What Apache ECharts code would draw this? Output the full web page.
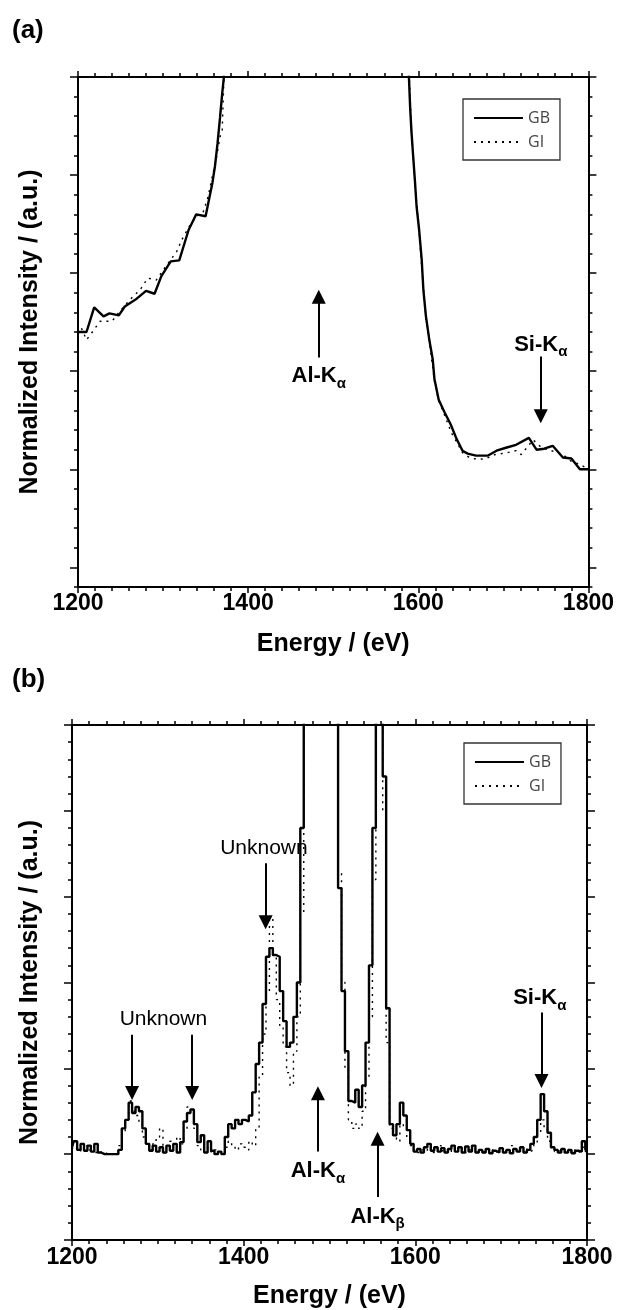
<!DOCTYPE html>
<html>
<head>
<meta charset="utf-8">
<script src="https://cdn.jsdelivr.net/npm/echarts@6.0.0/dist/echarts.min.js"></script>
<style>
  html, body { margin: 0; padding: 0; background: #fff; }
  #chart { width: 617px; height: 1310px; }
</style>
</head>
<body>
<div id="chart"></div>
<script>
// ---- panel (a): GB / GI, Al-K alpha saturated ----
const aEnergyGB = [1200, 1210, 1219, 1230, 1237, 1248, 1255, 1269, 1280, 1290,
  1298, 1309, 1319, 1330, 1339, 1350, 1354, 1358, 1361, 1364,
  1367, 1369.5, 1371.5, 1373, 1587, 1589, 1590.5, 1592, 1594, 1596,
  1598, 1601, 1604, 1606, 1609, 1613, 1617, 1619, 1624, 1631,
  1638, 1645, 1652, 1658, 1668, 1682, 1692, 1703, 1715, 1730,
  1739, 1748, 1758, 1770, 1780, 1790, 1800];
const aGB = [2.40, 2.40, 2.65, 2.56, 2.59, 2.57, 2.66, 2.74, 2.82, 2.79,
  2.97, 3.12, 3.13, 3.44, 3.60, 3.58, 3.75, 3.92, 4.09, 4.32,
  4.59, 4.83, 5.00, 5.60, 5.60, 5.00, 4.68, 4.44, 4.19, 3.95,
  3.68, 3.44, 3.14, 2.83, 2.56, 2.32, 2.12, 1.92, 1.71, 1.58,
  1.46, 1.31, 1.19, 1.16, 1.14, 1.14, 1.19, 1.22, 1.25, 1.32,
  1.20, 1.21, 1.24, 1.12, 1.11, 1.00, 1.00];
const aEnergyGI = [1200, 1204, 1210, 1216, 1226, 1240, 1250, 1261, 1273, 1282,
  1292, 1300, 1316, 1322, 1331, 1339, 1347, 1353, 1357, 1363,
  1367, 1369.5, 1371.5, 1373, 1587, 1589.5, 1592, 1596, 1601, 1606,
  1609, 1613, 1619, 1624, 1631, 1639, 1645, 1652, 1660, 1670,
  1680, 1690, 1705, 1715, 1721, 1735, 1745, 1760, 1770, 1780,
  1790, 1800];
const aGI = [2.38, 2.44, 2.32, 2.39, 2.51, 2.51, 2.62, 2.73, 2.83, 2.95,
  2.93, 3.03, 3.22, 3.34, 3.48, 3.58, 3.62, 3.78, 3.95, 4.19,
  4.39, 4.46, 4.97, 5.60, 5.60, 5.00, 4.45, 3.92, 3.42, 2.85,
  2.55, 2.30, 1.90, 1.70, 1.55, 1.37, 1.28, 1.17, 1.12, 1.10,
  1.11, 1.15, 1.17, 1.19, 1.15, 1.30, 1.22, 1.18, 1.15, 1.08,
  1.05, 1.00];

// ---- panel (b): 4 eV steps ----
const bEnergy = [1200, 1204, 1208, 1212, 1216, 1220, 1224, 1228, 1232, 1236,
  1240, 1244, 1248, 1252, 1256, 1260, 1264, 1268, 1272, 1276,
  1280, 1284, 1288, 1292, 1296, 1300, 1304, 1308, 1312, 1316,
  1320, 1324, 1328, 1332, 1336, 1340, 1344, 1348, 1352, 1356,
  1360, 1364, 1368, 1372, 1376, 1380, 1384, 1388, 1392, 1396,
  1400, 1404, 1408, 1412, 1416, 1420, 1424, 1428, 1432, 1436,
  1440, 1444, 1448, 1452, 1456, 1460, 1464, 1468, 1472, 1476,
  1480, 1484, 1488, 1492, 1496, 1500, 1504, 1508, 1512, 1516,
  1520, 1524, 1528, 1532, 1536, 1540, 1544, 1548, 1552, 1556,
  1560, 1564, 1568, 1572, 1576, 1580, 1584, 1588, 1592, 1596,
  1600, 1604, 1608, 1612, 1616, 1620, 1624, 1628, 1632, 1636,
  1640, 1644, 1648, 1652, 1656, 1660, 1664, 1668, 1672, 1676,
  1680, 1684, 1688, 1692, 1696, 1700, 1704, 1708, 1712, 1716,
  1720, 1724, 1728, 1732, 1736, 1740, 1744, 1748, 1752, 1756,
  1760, 1764, 1768, 1772, 1776, 1780, 1784, 1788, 1792, 1796,
  1800];
const bGB = [0.08, 0.15, 0.05, 0.12, 0.04, 0.10, 0.03, 0.12, 0.02, 0,
  0, 0, 0, 0, 0.05, 0.30, 0.40, 0.60, 0.48, 0.55,
  0.50, 0.30, 0.12, 0.04, 0.10, 0.03, 0.08, 0.02, 0.10, 0.04,
  0.12, 0.02, 0.14, 0.38, 0.48, 0.52, 0.35, 0.14, 0.22, 0.02,
  0.15, 0.04, 0, 0.03, 0, 0.20, 0.35, 0.30, 0.40, 0.35,
  0.40, 0.38, 0.45, 0.72, 1.05, 1.30, 1.75, 2.30, 2.40, 2.32,
  2.30, 1.90, 1.55, 1.25, 1.30, 1.60, 2.00, 3.80, 5.60, 5.60,
  5.60, 5.60, 5.60, 5.60, 5.60, 5.60, 5.60, 5.60, 3.10, 1.90,
  1.20, 0.62, 0.60, 0.75, 0.55, 0.80, 1.30, 2.20, 3.80, 5.20,
  5.20, 4.40, 1.70, 0.35, 0.22, 0.35, 0.60, 0.45, 0.28, 0.12,
  0.03, 0.06, 0.02, 0.08, 0.12, 0.04, 0.08, 0.03, 0.07, 0.02,
  0.06, 0.10, 0.03, 0.08, 0.02, 0.09, 0.03, 0.10, 0.02, 0.05,
  0.02, 0.06, 0.01, 0.04, 0.02, 0.07, 0.02, 0.05, 0.01, 0.06,
  0.03, 0.08, 0.02, 0.05, 0.12, 0.20, 0.40, 0.70, 0.50, 0.25,
  0.08, 0.05, 0.02, 0.06, 0.02, 0.05, 0.01, 0.04, 0.03, 0.15,
  0.05];
const bGI = [0.05, 0.10, 0.08, 0.03, 0.10, 0.05, 0.08, 0.02, 0.04, 0,
  0.02, 0, 0, 0.02, 0.10, 0.25, 0.40, 0.62, 0.50, 0.45,
  0.35, 0.20, 0.10, 0.05, 0.12, 0.20, 0.30, 0.10, 0.05, 0.15,
  0.08, 0.20, 0.12, 0.30, 0.55, 0.50, 0.30, 0.10, 0.05, 0.10,
  0.03, 0.02, 0.05, 0, 0.02, 0.08, 0.15, 0.10, 0.05, 0.12,
  0.08, 0.05, 0.15, 0.10, 0.30, 0.90, 1.40, 1.90, 2.75, 2.30,
  1.80, 1.50, 1.25, 0.95, 0.80, 1.20, 1.60, 2.80, 5.60, 5.60,
  5.60, 5.60, 5.60, 5.60, 5.60, 5.60, 5.60, 5.60, 3.30, 2.00,
  1.00, 0.40, 0.30, 0.35, 0.30, 0.50, 0.90, 1.60, 3.20, 5.20,
  5.20, 4.00, 1.30, 0.30, 0.20, 0.15, 0.35, 0.30, 0.20, 0.10,
  0.05, 0.02, 0.05, 0.03, 0.08, 0.02, 0.05, 0.10, 0.04, 0.06,
  0.02, 0.05, 0.08, 0.03, 0.06, 0.02, 0.05, 0.04, 0.07, 0.02,
  0.04, 0.02, 0.06, 0.02, 0.04, 0.03, 0.06, 0.02, 0.10, 0.03,
  0.05, 0.02, 0.06, 0.03, 0.05, 0.12, 0.25, 0.40, 0.30, 0.15,
  0.06, 0.03, 0.05, 0.02, 0.04, 0.02, 0.05, 0.02, 0.04, 0.08,
  0.03];

// annotations: [energy, tail, tip] and [main, subscript, energy, value]
const aArrows = [[1483, 2.14, 2.83], [1744, 2.15, 1.47]];
const aLabels = [['Al-K', 'α', 1483, 1.95], ['Si-K', 'α', 1744, 2.27]];
const bArrows = [[1270, 1.39, 0.63], [1340, 1.39, 0.63], [1425.6, 3.39, 2.62],
  [1486.5, 0.03, 0.79], [1556, -0.5, 0.26], [1747, 1.65, 0.77]];
const bLabels = [['Al-K', 'α', 1486.5, -0.2], ['Al-K', 'β', 1556, -0.73], ['Si-K', 'α', 1745, 1.82]];
const bUnknown = [[1306.5, 1.57], [1423.6, 3.57]];

const aMajor = [0, 1, 2, 3, 4, 5];

const FONT = '"Liberation Sans", Arial, Helvetica, sans-serif';
const HEAD = 14;

const pairs = (xs, ys) => xs.map((x, i) => [x, ys[i]]);

const rich = {
  m: { fontFamily: FONT, fontWeight: 'bold', fontSize: 22, color: '#000' },
  s: { fontFamily: FONT, fontWeight: 'bold', fontSize: 15, color: '#000', verticalAlign: 'bottom', lineHeight: 30 },
  u: { fontFamily: FONT, fontSize: 21, color: '#000' }
};

function arrowData(list, unitPx) {
  return list.map(([e, from, to]) => {
    const dir = to > from ? 1 : -1;
    const end = to - dir * (HEAD / 2) / unitPx;
    return [{ coord: [e, from], symbol: 'none' },
            { coord: [e, end], symbol: 'triangle', symbolSize: [HEAD, HEAD] }];
  });
}

function notes(xIdx, yIdx, arrows, labels, unknown, unitPx) {
  const pts = labels.map(([m, s, e, v]) => ({ coord: [e, v], label: { formatter: '{m|' + m + '}{s|' + s + '}' } }));
  unknown.forEach(([e, v]) => pts.push({ coord: [e, v], label: { formatter: '{u|Unknown}' } }));
  return {
    name: 'notes', type: 'line', xAxisIndex: xIdx, yAxisIndex: yIdx, data: [], silent: true,
    markLine: {
      silent: true, animation: false, symbol: ['none', 'triangle'], symbolSize: [HEAD, HEAD],
      lineStyle: { color: '#000', width: 2, type: 'solid' }, label: { show: false },
      emphasis: { disabled: true },
      data: arrowData(arrows, unitPx)
    },
    markPoint: {
      silent: true, animation: false, symbol: 'rect', symbolSize: 1,
      itemStyle: { color: 'rgba(0,0,0,0)' },
      label: { show: true, position: 'inside', rich: rich },
      data: pts
    }
  };
}

function xAxisFor(gridIndex, position, withLabels, labelMargin, nameGap) {
  return {
    type: 'value', gridIndex: gridIndex, position: position,
    min: 1200, max: 1800, interval: 200,
    axisLine: { show: true, onZero: false, lineStyle: { color: '#000', width: 2 } },
    axisTick: { show: true, inside: false, length: 6, lineStyle: { color: '#000', width: 1.5 } },
    minorTick: { show: true, splitNumber: 10, length: 4, lineStyle: { color: '#000', width: 1.5 } },
    splitLine: { show: false },
    axisLabel: { show: withLabels, margin: labelMargin, fontFamily: FONT, fontWeight: 'bold', fontSize: 23,
      color: '#000', formatter: (v) => String(v) },
    name: withLabels ? 'Energy / (eV)' : '',
    nameLocation: 'middle', nameGap: nameGap,
    nameTextStyle: { fontFamily: FONT, fontWeight: 'bold', fontSize: 25, color: '#000' }
  };
}

const yName = 'Normalized Intensity / (a.u.)';
const yNameStyle = { fontFamily: FONT, fontWeight: 'bold', fontSize: 25, color: '#000' };

function yMinorA(position, withName) {
  return {
    type: 'value', gridIndex: 0, position: position, min: -0.2, max: 5, interval: 0.2,
    axisLine: { show: true, onZero: false, lineStyle: { color: '#000', width: 2 } },
    axisTick: { show: true, inside: false, length: 4, lineStyle: { color: '#000', width: 1.5 } },
    splitLine: { show: false }, axisLabel: { show: false },
    name: withName ? yName : '', nameLocation: 'middle', nameGap: 35, nameTextStyle: yNameStyle
  };
}

function yMajorA(position) {
  return {
    type: 'value', gridIndex: 0, position: position, min: -0.2, max: 5,
    axisLine: { show: false, onZero: false },
    axisTick: { show: true, inside: false, length: 8, customValues: aMajor, lineStyle: { color: '#000', width: 1.5 } },
    splitLine: { show: false }, axisLabel: { show: false }
  };
}

function yAxisB(position, withName) {
  return {
    type: 'value', gridIndex: 1, position: position, min: -1, max: 5, interval: 1,
    axisLine: { show: true, onZero: false, lineStyle: { color: '#000', width: 2 } },
    axisTick: { show: true, inside: false, length: 8, lineStyle: { color: '#000', width: 1.5 } },
    minorTick: { show: true, splitNumber: 5, length: 4, lineStyle: { color: '#000', width: 1.5 } },
    splitLine: { show: false }, axisLabel: { show: false },
    name: withName ? yName : '', nameLocation: 'middle', nameGap: 29, nameTextStyle: yNameStyle
  };
}

const gbStyle = { color: '#000', width: 2.4, type: 'solid' };
const giStyle = { color: '#000', width: 1.4, type: [2, 5] };

function legendAt(left, top) {
  return {
    data: ['GB', 'GI'], left: left, top: top, orient: 'vertical',
    itemWidth: 49, itemHeight: 14, itemGap: 8, padding: [11, 10, 10, 10],
    borderColor: '#333', borderWidth: 1.3, selectedMode: false,
    itemStyle: { opacity: 0 },
    textStyle: { fontFamily: '"Open Sans", sans-serif', fontSize: 16, color: '#444' }
  };
}

const chart = echarts.init(document.getElementById('chart'), null, { renderer: 'canvas' });
chart.setOption({
  animation: false,
  backgroundColor: '#fff',
  textStyle: { fontFamily: FONT },
  grid: [
    { left: 78, top: 77, width: 511, height: 510, containLabel: false },
    { left: 72, top: 725, width: 515, height: 516, containLabel: false }
  ],
  xAxis: [
    xAxisFor(0, 'bottom', true, 5, 45),
    xAxisFor(0, 'top', false, 0, 0),
    xAxisFor(1, 'bottom', true, 6, 44),
    xAxisFor(1, 'top', false, 0, 0)
  ],
  yAxis: [
    yMinorA('left', true), yMajorA('left'), yMinorA('right', false), yMajorA('right'),
    yAxisB('left', true), yAxisB('right', false)
  ],
  legend: [legendAt(463, 99), legendAt(464, 743)],
  graphic: [
    { type: 'text', left: 12, top: 18, style: { text: '(a)', font: 'bold 26px ' + FONT, fill: '#000' } },
    { type: 'text', left: 12, top: 667, style: { text: '(b)', font: 'bold 26px ' + FONT, fill: '#000' } }
  ],
  series: [
    { name: 'GI', type: 'line', xAxisIndex: 0, yAxisIndex: 0, data: pairs(aEnergyGI, aGI),
      symbol: 'none', lineStyle: giStyle, itemStyle: { color: '#000' }, z: 2, clip: true },
    { name: 'GB', type: 'line', xAxisIndex: 0, yAxisIndex: 0, data: pairs(aEnergyGB, aGB),
      symbol: 'none', lineStyle: gbStyle, itemStyle: { color: '#000' }, z: 3, clip: true },
    { name: 'GI', type: 'line', xAxisIndex: 2, yAxisIndex: 4, data: pairs(bEnergy, bGI), step: 'middle',
      symbol: 'none', lineStyle: giStyle, itemStyle: { color: '#000' }, z: 2, clip: true },
    { name: 'GB', type: 'line', xAxisIndex: 2, yAxisIndex: 4, data: pairs(bEnergy, bGB), step: 'middle',
      symbol: 'none', lineStyle: gbStyle, itemStyle: { color: '#000' }, z: 3, clip: true },
    notes(0, 0, aArrows, aLabels, [], 510 / 5.2),
    notes(2, 4, bArrows, bLabels, bUnknown, 516 / 6)
  ]
});
</script>
</body>
</html>
